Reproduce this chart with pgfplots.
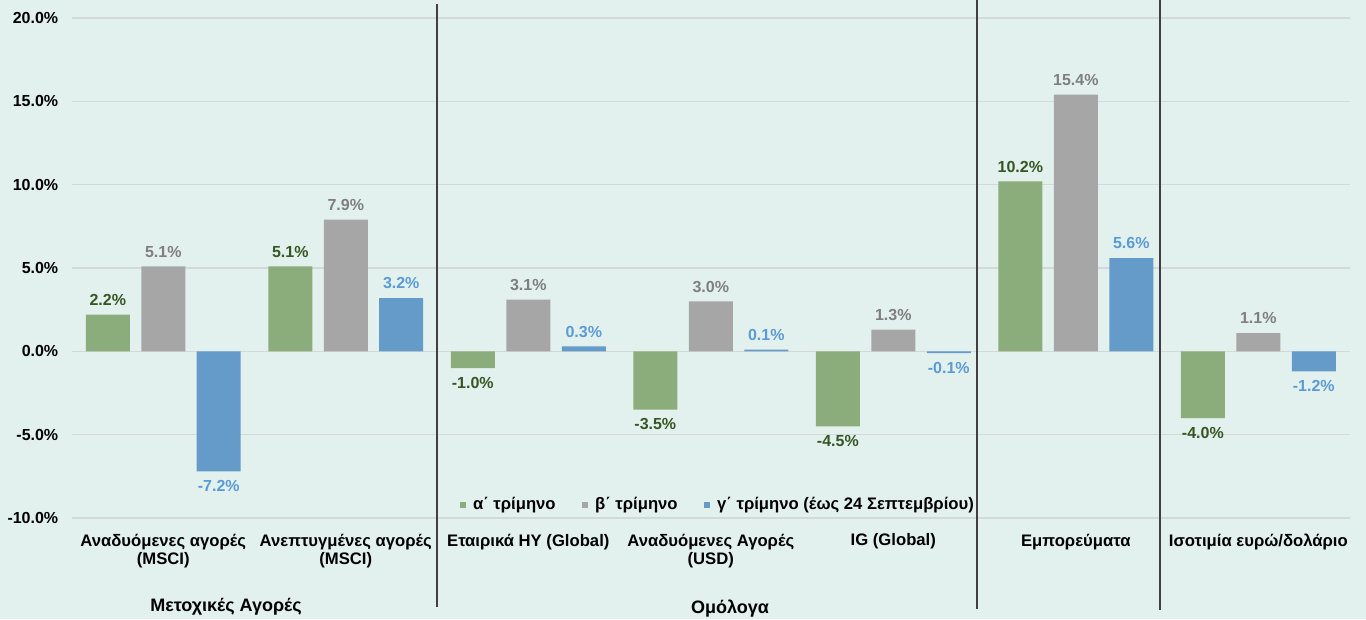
\documentclass[border=0pt]{standalone}
\usepackage{fontspec}
\setmainfont{Liberation Sans}
\usepackage{pgfplots}
\pgfplotsset{compat=1.18}
\usetikzlibrary{backgrounds}
\definecolor{bg}{HTML}{E2F1EE}
\definecolor{gbar}{HTML}{8BAD7C}
\definecolor{sbar}{HTML}{A6A6A6}
\definecolor{bbar}{HTML}{659BC9}
\definecolor{glab}{HTML}{375623}
\definecolor{slab}{HTML}{7F7F7F}
\definecolor{blab}{HTML}{5B9BD5}
\definecolor{gridc}{HTML}{D3D9D7}
\begin{document}
\begin{tikzpicture}
\begin{axis}[
 x=136.875pt, y=12.5pt,
 xmin=-0.5, xmax=6.5, ymin=-10, ymax=20,
 ybar=8.6pt, bar width=33pt,
 clip=false,
 axis line style={draw=none},
 tick style={draw=none},
 ymajorgrids, grid style={gridc, line width=1pt},
 ytick={-10,-5,0,5,10,15,20},
 /pgf/number format/assume math mode=true,
 yticklabel={\pgfmathprintnumber[fixed,fixed zerofill,precision=1]{\tick}\%},
 yticklabel style={font=\bfseries\fontsize{12}{14}\selectfont, xshift=-6.8pt},
 xtick={0,1,2,3,4,5,6},
 xticklabels={{Αναδυόμενες αγορές\\(MSCI)},{Ανεπτυγμένες αγορές\\(MSCI)},{Εταιρικά HY (Global)},{Αναδυόμενες Αγορές\\(USD)},{IG (Global)},{Εμπορεύματα},{Ισοτιμία ευρώ/δολάριο}},
 xticklabel style={align=center, font=\bfseries\fontsize{12.5}{13.8}\selectfont, yshift=-4pt},
 nodes near coords={\pgfmathprintnumber[fixed,fixed zerofill,precision=1]{\pgfplotspointmeta}\%},
 every node near coord/.append style={font=\bfseries\fontsize{12}{14}\selectfont, inner ysep=6.5pt, inner xsep=0pt},
 legend style={draw=none, fill=none, at={(axis cs:1.6,-9.2)}, anchor=west,
   font=\bfseries\fontsize{12.5}{14}\selectfont,
   /tikz/every odd column/.append style={column sep=3.5pt},
   /tikz/every even column/.append style={column sep=17.5pt}},
 legend columns=3,
 legend image code/.code={\fill[#1] (0pt,-2.3pt) rectangle (4.6pt,2.3pt);},
]
\addplot[fill=gbar, draw=none, every node near coord/.append style={text=glab}] coordinates {(0,2.2)(1,5.1)(2,-1.0)(3,-3.5)(4,-4.5)(5,10.2)(6,-4.0)};
\addplot[fill=sbar, draw=none, every node near coord/.append style={text=slab}] coordinates {(0,5.1)(1,7.9)(2,3.1)(3,3.0)(4,1.3)(5,15.4)(6,1.1)};
\addplot[fill=bbar, draw=none, every node near coord/.append style={text=blab}] coordinates {(0,-7.2)(1,3.2)(2,0.3)(3,0.1)(4,-0.1)(5,5.6)(6,-1.2)};
\legend{α΄ τρίμηνο, β΄ τρίμηνο, γ΄ τρίμηνο (έως 24 Σεπτεμβρίου)}
\draw[line width=1.1pt, black!75] (axis cs:1.5,20.84) -- (axis cs:1.5,-15.34);
\draw[line width=1.1pt, black!75] (axis cs:4.459,21.08) -- (axis cs:4.459,-15.46);
\draw[line width=1.1pt, black!75] (axis cs:5.462,21.08) -- (axis cs:5.462,-15.52);
\node[font=\bfseries\fontsize{13.5}{15}\selectfont] at (axis cs:0.344,-15.3) {Μετοχικές Αγορές};
\node[font=\bfseries\fontsize{13.5}{15}\selectfont] at (axis cs:3.105,-15.42) {Ομόλογα};
\coordinate (bl) at (axis cs:-0.8945,-16.06);
\coordinate (tr) at (axis cs:6.590,21.08);
\end{axis}
\begin{scope}[on background layer]
\fill[bg] (bl) rectangle (tr);
\end{scope}
\pgfresetboundingbox
\path (bl) rectangle (tr);
\end{tikzpicture}
\end{document}
